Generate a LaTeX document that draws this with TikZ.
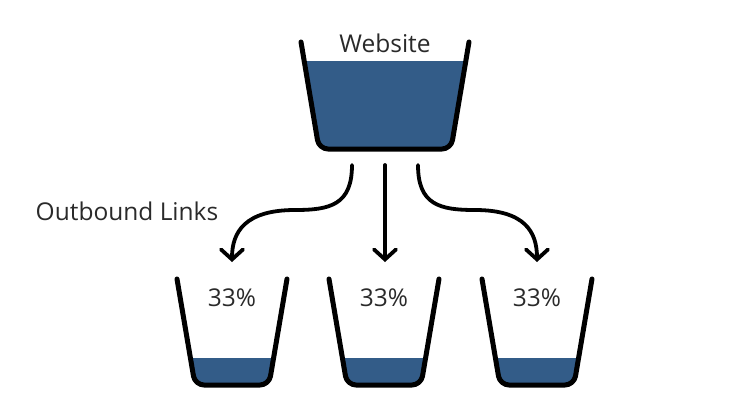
\documentclass[tikz,border=0pt]{standalone}
\usepackage{fontspec}
\setmainfont{Open Sans}
\usetikzlibrary{arrows.meta}
\definecolor{water}{HTML}{335C88}
\definecolor{txt}{HTML}{2A2A2A}
\tikzset{
  wall/.style={line width=5pt, line cap=round, line join=round, rounded corners=9pt},
  flow/.style={line width=3.8pt, line cap=round, -{Straight Barb[length=10pt,width=22pt,line cap=round]}},
  lbl/.style={text=txt, font=\fontsize{24.5}{28}\selectfont, inner sep=0pt}
}
\begin{document}
\begin{tikzpicture}[x=1pt,y=-1pt]
\useasboundingbox (0,0) rectangle (732,407);
% big bucket
\begin{scope}
  \clip (301,42) [rounded corners=9pt] -- (319,149) -- (451,149) -- (469,42) [sharp corners] -- cycle;
  \fill[water] (290,61) rectangle (480,160);
\end{scope}
\draw[wall] (301,42) -- (319,149) -- (451,149) -- (469,42);
\node[lbl] (web) at (385,43) {Website};
% arrow start and end points
\coordinate (s1) at (352,165);
\coordinate (s2) at (385,165);
\coordinate (s3) at (418,165);
\coordinate (t1) at (232,262);
\coordinate (t2) at (385,262);
\coordinate (t3) at (537,262);
\draw[flow] (s1) .. controls (352,205) and (330,210) .. (295,210) .. controls (245,210) and (232,232) .. (t1);
\draw[flow] (s2) -- (t2);
\draw[flow] (s3) .. controls (418,205) and (440,210) .. (475,210) .. controls (525,210) and (537,232) .. (t3);
\node[lbl] (out) at (127,211) {Outbound Links};
% small cups
\foreach \c/\n in {232/a, 384/b, 537/c}{
  \begin{scope}
    \clip ({\c-55},279) [rounded corners=9pt] -- ({\c-37},385) -- ({\c+37},385) -- ({\c+55},279) [sharp corners] -- cycle;
    \fill[water] ({\c-60},358) rectangle ({\c+60},395);
  \end{scope}
  \draw[wall] ({\c-55},279) -- ({\c-37},385) -- ({\c+37},385) -- ({\c+55},279);
  \node[lbl] (p\n) at (\c,298) {33\%};
}
\end{tikzpicture}
\end{document}
